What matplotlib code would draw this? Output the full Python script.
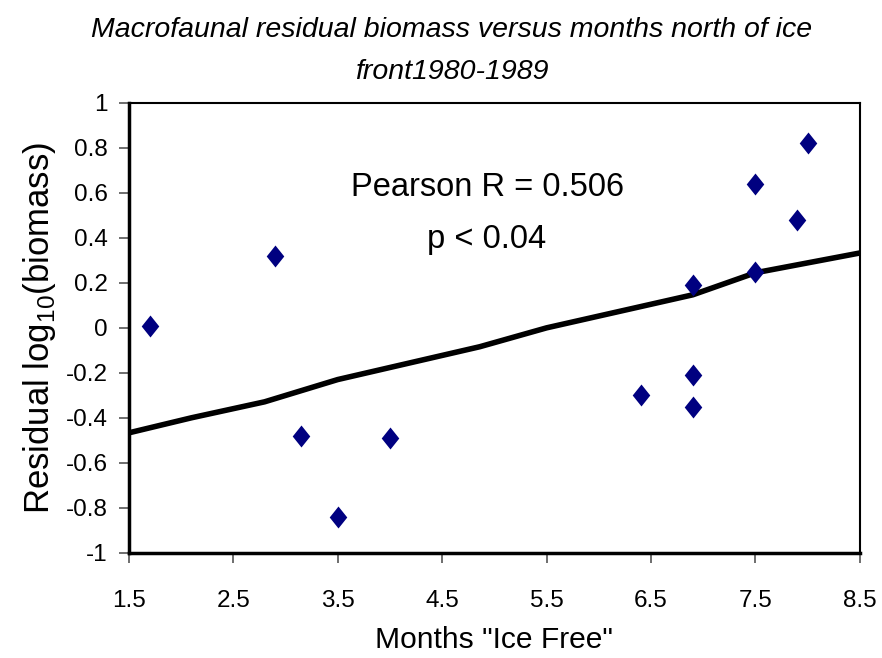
import matplotlib
matplotlib.use("Agg")
import matplotlib.pyplot as plt

# data
months = [1.7, 2.9, 3.15, 3.5, 4.0, 6.4, 6.9, 6.9, 6.9, 7.5, 7.5, 7.9, 8.0]
residual = [0.01, 0.32, -0.48, -0.84, -0.49, -0.30, 0.19, -0.21, -0.35, 0.64, 0.25, 0.48, 0.82]

# trend line as drawn (slightly kinked polyline)
trend_x = [1.5, 2.1, 2.8, 3.5, 4.86, 5.5, 6.9, 7.5, 8.5]
trend_y = [-0.467, -0.40, -0.329, -0.23, -0.084, 0.0, 0.147, 0.245, 0.333]

x_ticks = [1.5, 2.5, 3.5, 4.5, 5.5, 6.5, 7.5, 8.5]
y_ticks = [-1, -0.8, -0.6, -0.4, -0.2, 0, 0.2, 0.4, 0.6, 0.8, 1]

font = "Liberation Sans"
plt.rcParams["mathtext.fontset"] = "custom"
plt.rcParams["mathtext.rm"] = font

fig = plt.figure(figsize=(8.82, 6.58), dpi=100)
ax = fig.add_axes([0.146, 0.160, 0.829, 0.6835])

ax.plot(trend_x, trend_y, color="black", lw=4, solid_capstyle="butt", zorder=2)
diamond = [(0, 1), (0.8, 0), (0, -1), (-0.8, 0), (0, 1)]
ax.scatter(months, residual, marker=diamond, s=250, color="#000080", zorder=3, linewidths=0)

ax.set_xlim(1.5, 8.5)
ax.set_ylim(-1, 1)
ax.set_xticks(x_ticks)
ax.set_yticks(y_ticks)
ax.set_xticklabels([f"{v:g}" for v in x_ticks], fontfamily=font, fontsize=17.5)
ax.set_yticklabels([f"{v:g}" for v in y_ticks], fontfamily=font, fontsize=17.5)
ax.tick_params(axis="both", direction="out", length=7, width=1.2, colors="#555555",
               labelcolor="black")
ax.tick_params(axis="x", pad=20)
ax.tick_params(axis="y", pad=8)

for side in ["left", "bottom"]:
    ax.spines[side].set_linewidth(2.5)
for side in ["top", "right"]:
    ax.spines[side].set_linewidth(1.5)

ax.set_xlabel('Months "Ice Free"', fontfamily=font, fontsize=21.6, labelpad=10)
ax.set_ylabel("Residual log$_{10}$(biomass)", fontfamily=font, fontsize=25, labelpad=6)

fig.text(0.512, 0.955, "Macrofaunal residual biomass versus months north of ice",
         ha="center", va="center", fontfamily=font, style="italic", fontsize=20.5)
fig.text(0.512, 0.890, "front1980-1989",
         ha="center", va="center", fontfamily=font, style="italic", fontsize=20.5)

ax.text(4.93, 0.622, "Pearson R = 0.506", ha="center", va="center",
        fontfamily=font, fontsize=23.5)
ax.text(4.93, 0.391, "p < 0.04", ha="center", va="center",
        fontfamily=font, fontsize=23.5)

fig.savefig("out.png", dpi=100)
